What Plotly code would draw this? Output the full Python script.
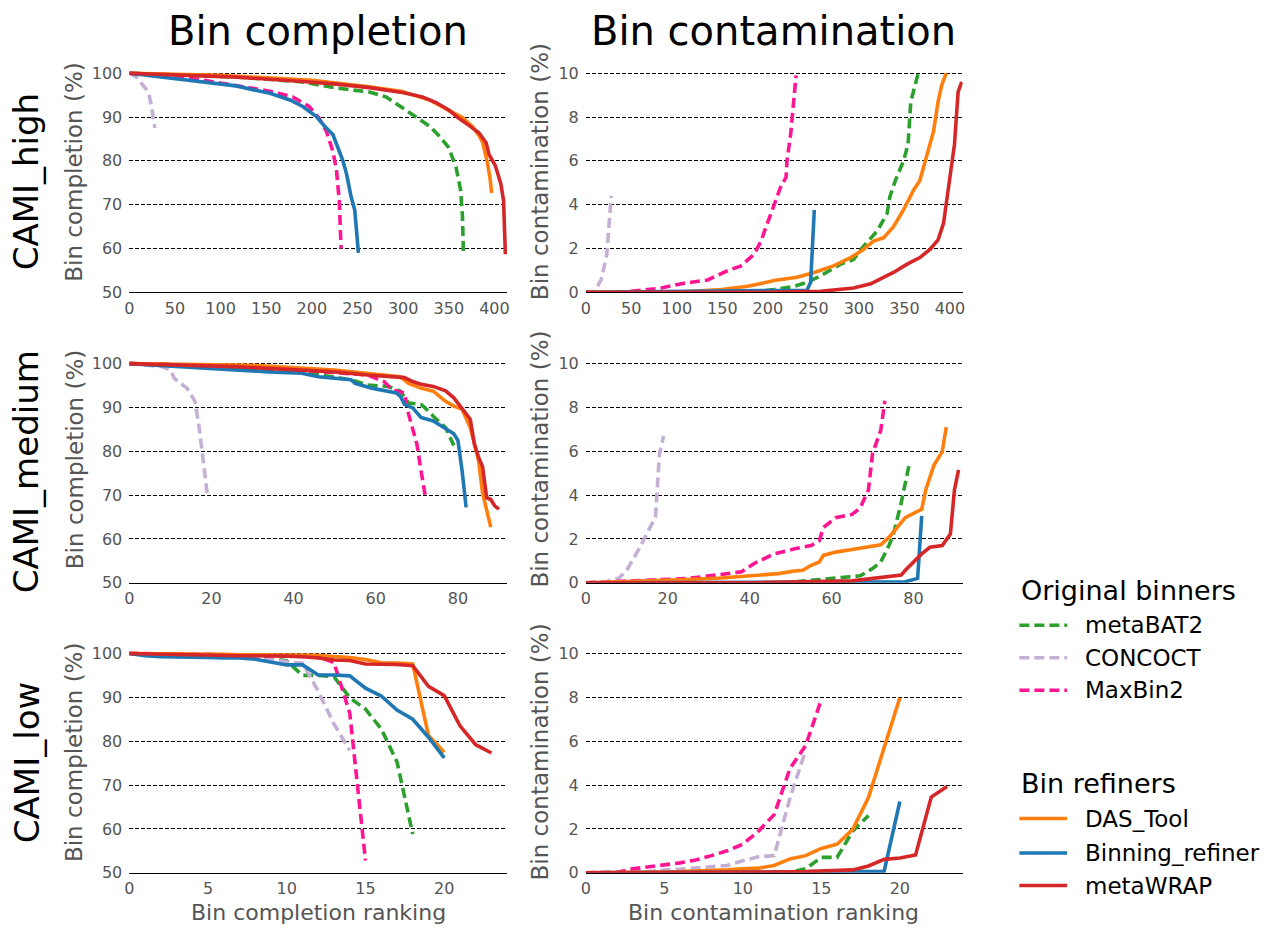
import plotly.graph_objects as go

# ---------------------------------------------------------------------------
# Ranked bin completion / contamination per tool (rank, value) for each dataset
# ---------------------------------------------------------------------------

# CAMI_high - completion
high_cpl_metabat2 = ([0, 60, 120, 190, 227, 263, 281, 295, 310, 329, 340, 350, 358, 363, 365, 366],
                     [100, 99.6, 99.1, 98.0, 96.6, 95.7, 94.6, 92.7, 90.5, 87.9, 85.6, 83.0, 78.5, 73.3, 67.3, 59.0])
high_cpl_concoct = ([0, 8, 15, 21, 24, 26, 28],
                    [100, 99.1, 97.2, 95.7, 92.7, 89.7, 87.5])
high_cpl_maxbin2 = ([0, 44, 81, 117, 154, 179, 197, 208, 216, 223, 227, 230, 232],
                    [100, 99.5, 98.4, 97.2, 95.9, 94.6, 92.4, 89.7, 86.7, 82.2, 77.8, 71.0, 60.0])
high_cpl_dastool = ([0, 100, 200, 263, 299, 330, 350, 365, 376, 383, 387, 392, 395, 397],
                    [100, 99.5, 98.4, 96.9, 95.8, 93.8, 91.5, 89.9, 87.8, 85.8, 84.3, 79.9, 76.3, 72.7])
high_cpl_binref = ([0, 44, 81, 117, 154, 176, 190, 205, 214, 223, 230, 234, 238, 243, 247, 251],
                   [100, 98.9, 98.1, 97.1, 95.4, 93.9, 92.4, 90.1, 87.9, 86.0, 82.2, 80.0, 77.0, 71.8, 68.8, 59.0])
high_cpl_metawrap = ([0, 60, 117, 190, 227, 263, 299, 321, 336, 350, 361, 372, 383, 391, 394, 401, 407, 410, 411, 412],
                     [100, 99.6, 99.1, 98.1, 97.5, 96.7, 95.6, 94.6, 93.3, 91.6, 89.7, 88.1, 86.4, 84.1, 81.5, 78.9,
                      74.8, 71.0, 65.8, 58.7])

# CAMI_high - contamination
high_ctm_metabat2 = ([0, 181, 207, 229, 243, 258, 280, 294, 305, 320, 331, 334, 340, 349, 354, 357, 362, 365],
                     [0, 0, 0.13, 0.28, 0.46, 0.76, 1.29, 1.5, 2.1, 2.8, 3.6, 4.36, 5.1, 6.0, 6.75, 8.7, 9.5, 9.97])
high_ctm_concoct = ([0, 8, 12, 17, 23, 25, 28],
                    [0, 0, 0.2, 0.6, 1.7, 2.9, 4.4])
high_ctm_maxbin2 = ([0, 39, 83, 105, 134, 156, 170, 185, 192, 200, 207, 214, 220, 221, 225, 228, 231],
                    [0, 0, 0.2, 0.4, 0.57, 1.0, 1.2, 1.74, 2.3, 3.2, 3.9, 4.8, 5.25, 6.0, 7.2, 8.7, 9.9])
high_ctm_dastool = ([0, 94, 149, 178, 207, 232, 251, 272, 291, 305, 316, 327, 338, 349, 360, 367, 374, 382, 387,
                     391, 395, 396],
                    [0, 0, 0.13, 0.28, 0.54, 0.69, 0.91, 1.21, 1.59, 1.96, 2.34, 2.49, 3.0, 3.76, 4.66, 5.1, 6.15,
                     7.35, 8.7, 9.45, 9.9, 10.0])
high_ctm_binref = ([0, 243, 247, 249, 251],
                   [0, 0.1, 0.46, 1.96, 3.76])
high_ctm_metawrap = ([0, 185, 258, 294, 313, 323, 338, 353, 367, 378, 387, 393, 396, 402, 405, 407, 409, 413],
                     [0, 0, 0.05, 0.2, 0.39, 0.61, 0.91, 1.29, 1.59, 1.96, 2.4, 3.16, 4.06, 5.7, 6.75, 7.95, 9.15, 9.6])

# CAMI_medium - completion
medium_cpl_metabat2 = ([0, 20, 40, 54, 58, 63, 66, 68, 71, 72, 74, 77, 79],
                       [100, 99.5, 98.3, 96.3, 95.1, 94.8, 93.7, 91.0, 90.7, 89.9, 88.0, 85.4, 81.3])
medium_cpl_concoct = ([0, 8, 10, 11, 14, 16, 17, 18, 19],
                      [100, 99.3, 98.5, 96.6, 94.4, 91.4, 85.4, 78.0, 70.1])
medium_cpl_maxbin2 = ([0, 30, 58, 62, 64, 67, 68, 70, 71, 72],
                      [100, 99.3, 97.4, 95.9, 94.0, 93.3, 88.4, 81.7, 75.7, 70.1])
medium_cpl_dastool = ([0, 30, 50, 66, 68, 71, 74, 77, 79, 81, 83, 85, 86, 87, 88],
                      [100, 99.6, 98.5, 97.0, 95.5, 94.4, 93.7, 91.4, 90.3, 89.6, 85.4, 78.0, 70.5, 66.8, 62.7])
medium_cpl_binref = ([0, 18, 34, 42, 46, 54, 55, 59, 63, 65, 66, 67, 69, 71, 74, 77, 79, 80, 81, 82],
                     [100, 98.9, 98.1, 97.8, 97.0, 96.3, 95.5, 94.4, 93.7, 93.3, 92.5, 90.7, 89.9, 87.7, 86.9, 85.1,
                      84.0, 82.5, 75.7, 67.2])
medium_cpl_metawrap = ([0, 26, 42, 50, 58, 64, 67, 69, 71, 74, 77, 79, 81, 83, 84, 85, 86, 87, 88, 89, 90],
                       [100, 99.3, 98.5, 98.1, 97.4, 97.0, 96.8, 95.9, 95.3, 94.8, 93.8, 92.2, 89.9, 87.3, 81.7, 78.7,
                        76.5, 69.4, 69.0, 67.5, 66.8])

# CAMI_medium - contamination
medium_ctm_metabat2 = ([0, 49, 53, 61, 67, 70, 72, 74, 75, 77, 78, 79],
                       [0, 0, 0.08, 0.22, 0.32, 0.65, 0.95, 1.7, 2.15, 3.65, 4.55, 5.45])
medium_ctm_concoct = ([0, 5, 8, 10, 13, 15, 17, 18, 19],
                      [0, 0.05, 0.2, 0.57, 1.55, 2.3, 3.0, 5.9, 6.7])
medium_ctm_maxbin2 = ([0, 17, 25, 33, 38, 41, 46, 51, 55, 57, 58, 61, 65, 67, 69, 70, 72, 73],
                      [0, 0.12, 0.2, 0.38, 0.5, 0.87, 1.32, 1.55, 1.7, 1.92, 2.52, 2.97, 3.12, 3.42, 4.25, 5.9, 6.95,
                       8.3])
medium_ctm_dastool = ([0, 17, 25, 33, 41, 47, 51, 53, 55, 57, 58, 61, 65, 70, 72, 74, 76, 78, 80, 82, 83, 85, 87, 88],
                      [0, 0.08, 0.15, 0.22, 0.32, 0.42, 0.54, 0.57, 0.8, 0.95, 1.25, 1.4, 1.52, 1.67, 1.73, 2.07,
                       2.52, 2.97, 3.17, 3.35, 4.25, 5.37, 5.97, 7.1])
medium_ctm_binref = ([0, 78, 81, 82],
                     [0, 0.05, 0.2, 3.05])
medium_ctm_metawrap = ([0, 41, 65, 70, 77, 78, 80, 82, 84, 87, 89, 90, 91],
                       [0, 0, 0.09, 0.2, 0.35, 0.57, 0.95, 1.32, 1.62, 1.7, 2.22, 4.25, 5.15])

# CAMI_low - completion (one value per ranked bin)
low_cpl_metabat2 = [100, 99.9, 99.8, 99.7, 99.6, 99.5, 99.4, 99.3, 99.2, 99.0, 98.3, 95.0, 95.0, 94.7, 89.9, 87.3,
                    82.8, 75.3, 58.8]
low_cpl_concoct = [100, 99.9, 99.8, 99.7, 99.6, 99.5, 99.4, 99.3, 99.2, 98.8, 98.1, 97.8, 91.4, 83.9, 77.9]
low_cpl_maxbin2 = [100, 100, 100, 100, 99.9, 99.8, 99.7, 99.6, 99.5, 99.4, 99.4, 99.3, 99.25, 97.9, 86.4, 52.8]
low_cpl_dastool = [100, 100, 100, 100, 99.9, 99.8, 99.8, 99.7, 99.7, 99.6, 99.6, 99.6, 99.6, 99.3, 99.1, 98.6,
                   97.9, 97.8, 97.6, 81.3, 77.5]
low_cpl_binref = [100, 99.5, 99.25, 99.25, 99.25, 99.1, 99.0, 99.0, 98.7, 98.0, 97.4, 97.4, 95.1, 95.1, 94.9, 92.1,
                  90.3, 87.1, 85.0, 80.9, 76.2]
low_cpl_metawrap = [100, 99.9, 99.8, 99.7, 99.6, 99.6, 99.5, 99.5, 99.5, 99.5, 99.4, 99.25, 99.0, 98.5, 98.4, 97.6,
                    97.6, 97.5, 97.2, 92.5, 90.4, 83.5, 79.2, 77.3]

# CAMI_low - contamination (one value per ranked bin)
low_ctm_metabat2 = [0, 0, 0, 0, 0, 0, 0, 0, 0, 0, 0, 0, 0, 0.02, 0.18, 0.7, 0.7, 1.9, 2.61]
low_ctm_concoct = [0, 0, 0, 0.02, 0.05, 0.13, 0.16, 0.21, 0.25, 0.33, 0.55, 0.73, 0.78, 3.4, 5.58]
low_ctm_maxbin2 = [0, 0, 0.02, 0.18, 0.25, 0.36, 0.45, 0.58, 0.78, 1.0, 1.3, 1.9, 2.65, 4.75, 5.8, 7.9]
low_ctm_dastool = [0, 0, 0, 0.01, 0.02, 0.03, 0.05, 0.07, 0.1, 0.13, 0.18, 0.21, 0.33, 0.63, 0.78, 1.11, 1.3, 1.98,
                   3.43, 5.65, 7.98]
low_ctm_binref = [0, 0, 0, 0, 0, 0, 0, 0, 0, 0, 0, 0, 0.02, 0.03, 0.04, 0.05, 0.06, 0.06, 0.07, 0.07, 3.25]
low_ctm_metawrap = [0, 0, 0, 0, 0, 0, 0, 0, 0, 0, 0.01, 0.02, 0.03, 0.04, 0.05, 0.07, 0.1, 0.13, 0.31, 0.61, 0.67,
                    0.81, 3.45, 3.93]

datasets = ["CAMI_high", "CAMI_medium", "CAMI_low"]
x_limits = [414, 92, 24]
x_ticks = [list(range(0, 401, 50)), list(range(0, 81, 20)), list(range(0, 21, 5))]
cpl_ticks = [50, 60, 70, 80, 90, 100]
ctm_ticks = [0, 2, 4, 6, 8, 10]

# ---------------------------------------------------------------------------
# Tool styling
# ---------------------------------------------------------------------------
binners = ["metaBAT2", "CONCOCT", "MaxBin2"]
refiners = ["DAS_Tool", "Binning_refiner", "metaWRAP"]
tools = binners + refiners
colors = {"metaBAT2": "#2ca02c", "CONCOCT": "#c5b0d5", "MaxBin2": "#ff1493",
          "DAS_Tool": "#ff7f0e", "Binning_refiner": "#1f77b4", "metaWRAP": "#d62728"}
DASH = "10px,5px"
LW = 3.6


def line_style(tool):
    return dict(color=colors[tool], width=LW, dash=DASH if tool in binners else "solid")


def ranked(values):
    return list(range(len(values))), values


completion = [
    [high_cpl_metabat2, high_cpl_concoct, high_cpl_maxbin2, high_cpl_dastool, high_cpl_binref, high_cpl_metawrap],
    [medium_cpl_metabat2, medium_cpl_concoct, medium_cpl_maxbin2, medium_cpl_dastool, medium_cpl_binref,
     medium_cpl_metawrap],
    [ranked(v) for v in (low_cpl_metabat2, low_cpl_concoct, low_cpl_maxbin2, low_cpl_dastool, low_cpl_binref,
                         low_cpl_metawrap)],
]
contamination = [
    [high_ctm_metabat2, high_ctm_concoct, high_ctm_maxbin2, high_ctm_dastool, high_ctm_binref, high_ctm_metawrap],
    [medium_ctm_metabat2, medium_ctm_concoct, medium_ctm_maxbin2, medium_ctm_dastool, medium_ctm_binref,
     medium_ctm_metawrap],
    [ranked(v) for v in (low_ctm_metabat2, low_ctm_concoct, low_ctm_maxbin2, low_ctm_dastool, low_ctm_binref,
                         low_ctm_metawrap)],
]

# ---------------------------------------------------------------------------
# Page geometry (pixels)
# ---------------------------------------------------------------------------
W, H = 1266, 935
col_px = [(125, 505), (584, 963)]
row_bottom_px = [293.5, 588, 882]
panel_h = 229
cpl_range = [50, 101.5]
ctm_range = [0, 10.3]
GREY = "#555555"
FONT = "DejaVu Sans"


def fx(px):
    return px / W


def fy(py):
    return 1 - py / H


fig = go.Figure()
layout = {}

for r in range(3):
    for c in range(2):
        idx = r * 2 + c + 1
        xa = "xaxis" if idx == 1 else f"xaxis{idx}"
        ya = "yaxis" if idx == 1 else f"yaxis{idx}"
        xref = "x" if idx == 1 else f"x{idx}"
        yref = "y" if idx == 1 else f"y{idx}"
        bottom = row_bottom_px[r]
        layout[xa] = dict(
            domain=[fx(col_px[c][0]), fx(col_px[c][1])], range=[0, x_limits[r]], anchor=yref,
            showgrid=False, zeroline=False, showline=True, linecolor="black", linewidth=1,
            ticks="", tickvals=x_ticks[r], tickfont=dict(size=16, color=GREY, family=FONT),
            ticklabelstandoff=1,
        )
        layout[ya] = dict(
            domain=[fy(bottom), fy(bottom - panel_h)], range=cpl_range if c == 0 else ctm_range, anchor=xref,
            showgrid=True, gridcolor="black", gridwidth=1, griddash="4px,2px", zeroline=False, showline=False,
            ticks="", tickvals=cpl_ticks if c == 0 else ctm_ticks,
            tickfont=dict(size=16, color=GREY, family=FONT), ticklabelstandoff=6,
        )
        series = completion[r] if c == 0 else contamination[r]
        for tool, (xs, ys) in zip(tools, series):
            fig.add_trace(go.Scatter(
                x=xs, y=ys, mode="lines", name=tool, xaxis=xref, yaxis=yref,
                line=line_style(tool), showlegend=False, hoverinfo="skip",
            ))

annotations = []
shapes = []
# column headings
for text, cx in [("Bin completion", 315), ("Bin contamination", 773)]:
    annotations.append(dict(text=text, x=fx(cx), y=fy(28), xref="paper", yref="paper", showarrow=False,
                            xanchor="center", yanchor="middle", font=dict(size=40, color="black", family=FONT)))
# row headings and y titles
row_label_cy = [181, 475, 770]
ytitle_cy = [171.5, 463, 760]
for r, name in enumerate(datasets):
    annotations.append(dict(text=name, x=fx(22), y=fy(row_label_cy[r]), xref="paper", yref="paper",
                            showarrow=False, textangle=-90, xanchor="center", yanchor="middle",
                            font=dict(size=34, color="black", family=FONT)))
    for text, cx in [("Bin completion (%)", 70), ("Bin contamination (%)", 538)]:
        annotations.append(dict(text=text, x=fx(cx), y=fy(ytitle_cy[r]), xref="paper", yref="paper",
                                showarrow=False, textangle=-90, xanchor="center", yanchor="middle",
                                font=dict(size=23, color=GREY, family=FONT)))
# x titles
for text, cx in [("Bin completion ranking", 315), ("Bin contamination ranking", 773)]:
    annotations.append(dict(text=text, x=fx(cx), y=fy(922), xref="paper", yref="paper", showarrow=False,
                            xanchor="center", yanchor="middle", borderpad=0,
                            font=dict(size=22, color=GREY, family=FONT)))

# grouped legend: original binners and bin refiners
legend_groups = [("Original binners", binners, 596, [631, 664, 697]),
                 ("Bin refiners", refiners, 791, [827, 862, 895])]
for title, members, title_y, item_ys in legend_groups:
    annotations.append(dict(text=title, x=fx(1020), y=fy(title_y), xref="paper", yref="paper", showarrow=False,
                            xanchor="left", yanchor="middle", font=dict(size=27, color="black", family=FONT)))
    for tool, iy in zip(members, item_ys):
        shapes.append(dict(type="line", xref="paper", yref="paper", x0=fx(1020), x1=fx(1068), y0=fy(iy),
                           y1=fy(iy), line=line_style(tool)))
        annotations.append(dict(text=tool, x=fx(1084), y=fy(iy), xref="paper", yref="paper", showarrow=False,
                                xanchor="left", yanchor="middle", font=dict(size=23, color="black", family=FONT)))

fig.update_layout(
    width=W, height=H, margin=dict(l=0, r=0, t=0, b=0),
    paper_bgcolor="white", plot_bgcolor="white",
    font=dict(family=FONT),
    showlegend=False,
    annotations=annotations,
    shapes=shapes,
    **layout,
)

fig.write_html("out.html")
